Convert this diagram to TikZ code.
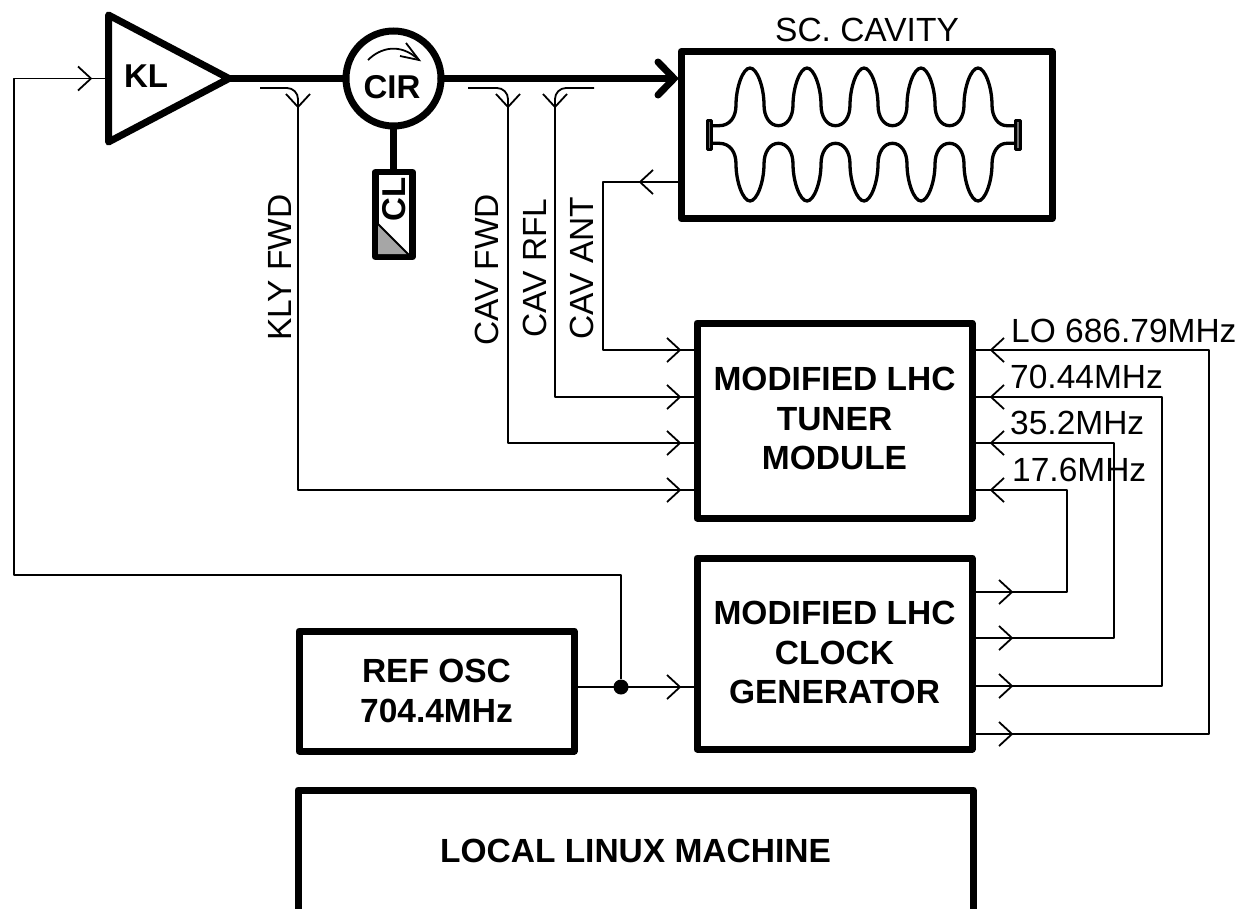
\documentclass[tikz,border=0pt]{standalone}
\usepackage{fontspec}
\setmainfont{Liberation Sans}
\newcommand{\chevat}[3]{\draw[sig,shift={(#1,#2)},rotate=#3] (-13,-12) -- (0,0) -- (-13,12);}
\newcommand{\cavhalf}{%
  \draw[cavline] (713,125.7) -- (719,125.7) .. controls (730,125.7) and (736,117) .. (736,105)
  \foreach \i in {0,1,2,3} {
    .. controls (736+57*\i,87) and (743+57*\i,68) .. (750+57*\i,68)
    .. controls (757+57*\i,68) and (764+57*\i,87) .. (764+57*\i,105)
    .. controls (764+57*\i,117) and (770+57*\i,125.7) .. (778.5+57*\i,125.7)
    .. controls (787+57*\i,125.7) and (793+57*\i,117) .. (793+57*\i,105)
  }
    .. controls (964,87) and (971,68) .. (978,68)
    .. controls (985,68) and (992,87) .. (992,105)
    .. controls (992,117) and (998,125.7) .. (1007,125.7) -- (1015,125.7);
}
\tikzset{
  x=1pt,y=-1pt,
  thick box/.style={draw=black,line width=7pt,line join=round,rectangle,inner sep=0pt,align=center,
    font=\fontsize{33.5}{39.5}\selectfont\bfseries},
  sig/.style={line width=1.8pt,draw=black,line join=round},
  power/.style={line width=7pt,draw=black},
  lab/.style={font=\fontsize{33.5}{33.5}\selectfont,inner sep=0pt,anchor=base west},
  vlab/.style={font=\fontsize{33.5}{33.5}\selectfont,inner sep=0pt,anchor=base,rotate=90},
  blab/.style={font=\fontsize{33}{33}\selectfont\bfseries,inner sep=0pt},
  cavline/.style={line width=3.3pt,draw=black,line cap=round},
  flange/.style={line width=3pt,draw=black,fill=black!55,line join=round},
}
\begin{document}
\begin{tikzpicture}
\useasboundingbox (0,0) rectangle (1241,908);
\clip (0,0) rectangle (1241,908);
% blocks
\node[thick box,minimum width=275pt,minimum height=195pt] (tuner) at (834.5,420.5) {MODIFIED LHC\\TUNER\\MODULE\rule[-4pt]{0pt}{4pt}};
\node[thick box,minimum width=275pt,minimum height=191pt] (clock) at (834.5,653.5) {MODIFIED LHC\\CLOCK\\GENERATOR\rule[-2pt]{0pt}{2pt}};
\node[thick box,minimum width=275pt,minimum height=120pt] (ref) at (436.5,691) {REF OSC\\704.4MHz};
\node[thick box,minimum width=675pt,minimum height=124pt] (linux) at (635.5,852) {\raisebox{3pt}{LOCAL LINUX MACHINE}};
\node[thick box,minimum width=371pt,minimum height=167pt] (cav) at (866.5,135) {};
\node[font=\fontsize{33.5}{33.5}\selectfont,inner sep=0pt] (cavname) at (867,30) {SC. CAVITY};
% cavity outline
\cavhalf
\begin{scope}[shift={(0,269)},yscale=-1]
\cavhalf
\end{scope}
\draw[flange] (707.5,120.5) rectangle (711.5,149.5);
\draw[flange] (1015.5,120.5) rectangle (1020.5,149.5);
% klystron
\coordinate (klin) at (105,78.5);
\coordinate (klout) at (228,78.5);
\draw[line width=7pt,line join=round] (108.5,15) -- (229,78.5) -- (108.5,142) -- cycle;
\node[blab] (kl) at (146,76) {KL};
% circulator
\node[circle,draw=black,line width=7pt,minimum size=95pt,inner sep=0pt,outer sep=0pt] (cir) at (393.5,78.5) {};
\node[blab] (cirtext) at (392,87) {CIR};
\draw[line width=1.8pt] (368,60) .. controls (380,48) and (400,42) .. (419,60);
\draw[line width=1.8pt] (406,43) -- (419,60) -- (400,56);
% load
\node[draw=black,line width=6.5pt,line join=round,rectangle,minimum width=37pt,minimum height=85pt,inner sep=0pt] (cl) at (394,214.5) {};
\fill[black!35] (378,224) -- (378,254) -- (408,254) -- cycle;
\draw[line width=1.8pt] (378,224) -- (409,255);
\node[blab,rotate=90] (cltext) at (394,199) {CL};
\draw[power] (cir.south) -- (cir.south |- cl.north);
% main power line
\coordinate (cavin) at (672,78.5);
\draw[power] (klout) -- (cir.west);
\draw[power,line cap=round] (cir.east) -- (cavin);
\draw[power,line cap=round,line join=miter] (658,62) -- (674,78.5) -- (658,95);
% feedback line
\node[circle,fill=black,inner sep=0pt,minimum size=15pt] (dot) at (621,687) {};
\coordinate (fbA) at (621,575);
\coordinate (fbB) at (14,575);
\coordinate (fbC) at (14,78.5);
\draw[sig] (dot) -- (fbA) -- (fbB) -- (fbC) -- (klin);
\chevat{91}{78.5}{0}
% ref to clock
\coordinate (refout) at (577,687);
\coordinate (clkin) at (694,687);
\draw[sig] (refout) -- (clkin);
\chevat{680}{687}{0}
% couplers
\coordinate (t1) at (694,350);
\coordinate (t2) at (694,397);
\coordinate (t3) at (694,443);
\coordinate (t4) at (694,490);
\coordinate (kf) at (260,88);
\coordinate (cf) at (468,88);
\coordinate (cr) at (594,88);
\coordinate (ca) at (678,182);
\draw[sig,rounded corners=11pt] (kf) -- (298,88) -- (298,200) [sharp corners] -- (298,490) -- (t4);
\draw[sig,rounded corners=11pt] (cf) -- (508,88) -- (508,200) [sharp corners] -- (508,443) -- (t3);
\draw[sig,rounded corners=11pt] (cr) -- (555,88) -- (555,200) [sharp corners] -- (555,397) -- (t2);
\draw[sig] (ca) -- (603,182) -- (603,350) -- (t1);
\chevat{298}{107}{-90}
\chevat{508}{107}{-90}
\chevat{555}{107}{-90}
\chevat{640}{182}{180}
\foreach \yy in {350,397,443,490} {\chevat{680}{\yy}{0}}
% clock distribution
\coordinate (r1) at (975,350);
\coordinate (r2) at (975,397);
\coordinate (r3) at (975,443);
\coordinate (r4) at (975,490);
\coordinate (c1) at (975,734);
\coordinate (c2) at (975,686);
\coordinate (c3) at (975,638);
\coordinate (c4) at (975,592);
\draw[sig] (c1) -- (1209,734) -- (1209,350) -- (r1);
\draw[sig] (c2) -- (1162,686) -- (1162,397) -- (r2);
\draw[sig] (c3) -- (1114,638) -- (1114,443) -- (r3);
\draw[sig] (c4) -- (1067,592) -- (1067,490) -- (r4);
\foreach \yy in {350,397,443,490} {\chevat{991}{\yy}{180}}
\foreach \yy in {592,638,686,734} {\chevat{1012}{\yy}{0}}
% labels
\node[lab] (l1) at (1011,342) {LO 686.79MHz};
\node[lab] (l2) at (1010,388) {70.44MHz};
\node[lab] (l3) at (1010,434) {35.2MHz};
\node[lab] (l4) at (1012,481) {17.6MHz};
\node[vlab] (v1) at (291,267.5) {KLY FWD};
\node[vlab] (v2) at (498,270) {CAV FWD};
\node[vlab] (v3) at (546,268) {CAV RFL};
\node[vlab] (v4) at (593,268) {CAV ANT};
\end{tikzpicture}
\end{document}
